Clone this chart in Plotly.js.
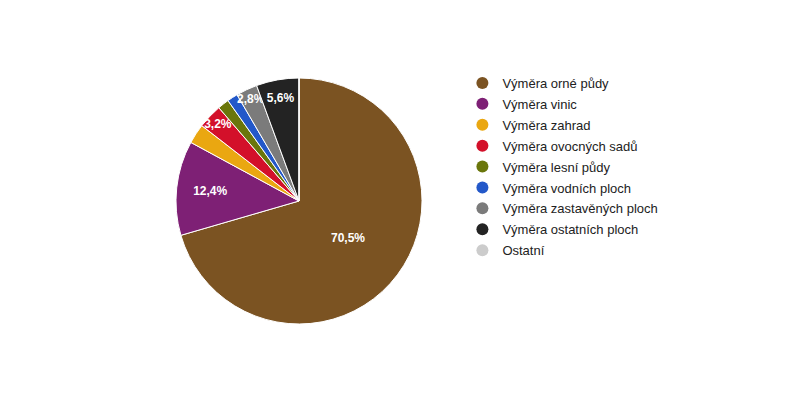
<!DOCTYPE html>
<html><head><meta charset="utf-8">
<script src="https://cdn.plot.ly/plotly-3.0.1.min.js"></script>
<style>html,body{margin:0;padding:0;background:#fff}#c{width:800px;height:400px}</style>
</head><body><div id="c"></div>
<script>
const labels = ['Výměra orné půdy','Výměra vinic','Výměra zahrad','Výměra ovocných sadů','Výměra lesní půdy','Výměra vodních ploch','Výměra zastavěných ploch','Výměra ostatních ploch','Ostatní'];
const values = [70.5, 12.4, 2.6, 3.2, 1.5, 1.4, 2.8, 5.6, 0];
const colors = ['#7b5322','#7e2075','#eaa711','#d3102a','#6a760b','#2358c9','#7b7b7b','#232323','#cccccc'];
const showLabel = [true, true, false, true, false, false, true, true, false];

const pie = {
  type: 'pie',
  labels: labels,
  values: values,
  sort: false,
  direction: 'clockwise',
  rotation: 0,
  marker: {colors: colors, line: {color: '#ffffff', width: 1}},
  texttemplate: showLabel.map(s => s ? '%{percent:.1%}' : ''),
  textposition: 'inside',
  insidetextorientation: 'horizontal',
  insidetextfont: {family: 'Liberation Sans, Arial, sans-serif', size: 12, color: '#ffffff', weight: 'bold'},
  hoverinfo: 'label+percent',
  showlegend: false,
  domain: {x: [0.22, 0.5275], y: [0.19, 0.805]}
};

const legendTraces = labels.map((l, i) => ({
  type: 'scatter', mode: 'markers', x: [null], y: [null], name: l,
  legendgroup: 'g' + i,
  marker: {color: colors[i], size: 12, symbol: 'circle'},
  showlegend: true, hoverinfo: 'skip'
}));

const layout = {
  width: 800, height: 400,
  margin: {l: 0, r: 0, t: 0, b: 0},
  paper_bgcolor: '#ffffff', plot_bgcolor: '#ffffff',
  separators: ', ',
  uniformtext: {minsize: 12, mode: 'show'},
  xaxis: {visible: false}, yaxis: {visible: false},
  showlegend: true,
  legend: {
    x: 0.578, y: 0.83, xanchor: 'left', yanchor: 'top',
    font: {family: 'Liberation Sans, Arial, sans-serif', size: 13, color: '#222222'},
    itemwidth: 30, tracegroupgap: 1, traceorder: 'grouped',
    bgcolor: 'rgba(0,0,0,0)'
  }
};

Plotly.newPlot('c', [pie].concat(legendTraces), layout, {displayModeBar: false, staticPlot: true});
</script>
</body></html>
